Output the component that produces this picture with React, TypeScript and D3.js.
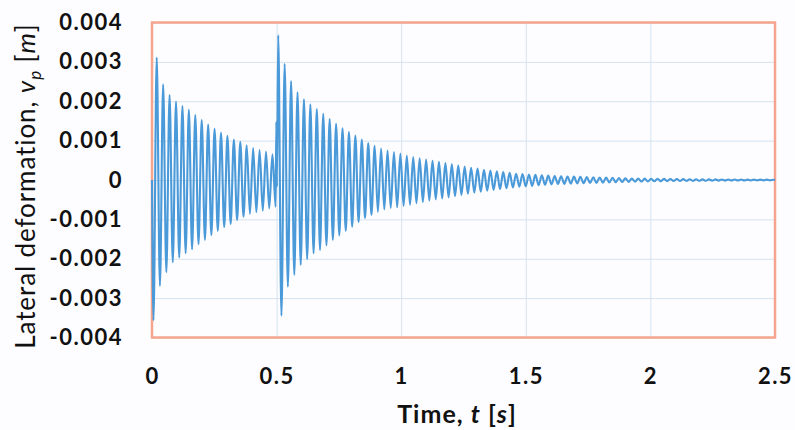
import React, { useEffect, useRef } from 'react';
import * as d3 from 'd3';

// tick values and labels
const X_TICKS = [0, 0.5, 1, 1.5, 2, 2.5];
const X_TICK_LABELS = ['0', '0.5', '1', '1.5', '2', '2.5'];
const Y_TICKS = [-0.004, -0.003, -0.002, -0.001, 0, 0.001, 0.002, 0.003, 0.004];
const Y_TICK_LABELS = ['-0.004', '-0.003', '-0.002', '-0.001', '0', '0.001', '0.002', '0.003', '0.004'];

// response to the first impact: start, then one row per cycle [t peak, v peak, t trough, v trough]
const FIRST_START: [number, number][] = [[0, 0], [0.006, -0.00356]];
const FIRST_CYCLES: [number, number, number, number][] = [
  [0.0189, 0.00311, 0.0318, -0.00269],
  [0.0447, 0.00243, 0.0576, -0.00234],
  [0.0705, 0.00216, 0.0834, -0.00209],
  [0.0963, 0.00199, 0.1092, -0.00197],
  [0.1221, 0.00188, 0.1350, -0.00186],
  [0.1479, 0.00178, 0.1608, -0.00176],
  [0.1737, 0.00165, 0.1866, -0.00163],
  [0.1995, 0.00152, 0.2124, -0.00152],
  [0.2253, 0.00141, 0.2382, -0.00140],
  [0.2511, 0.00130, 0.2640, -0.00129],
  [0.2769, 0.00120, 0.2898, -0.00120],
  [0.3027, 0.00112, 0.3156, -0.00112],
  [0.3285, 0.00103, 0.3414, -0.00102],
  [0.3543, 0.00097, 0.3672, -0.00093],
  [0.3801, 0.00088, 0.3930, -0.00086],
  [0.4059, 0.00081, 0.4188, -0.00082],
  [0.4317, 0.00076, 0.4446, -0.00078],
  [0.4575, 0.00072, 0.4704, -0.00072],
  [0.4833, 0.00065, 0.4962, -0.00068],
];

// short wiggle just before the second impact
const TRANSITION: [number, number][] = [[0.4990, 0.00148], [0.5012, -0.00017]];

// response to the second impact (t = 0.5 s)
const SECOND_CYCLES: [number, number, number, number][] = [
  [0.5065, 0.00368, 0.5194, -0.00345],
  [0.5323, 0.00295, 0.5452, -0.00271],
  [0.5581, 0.00251, 0.5710, -0.00241],
  [0.5839, 0.00223, 0.5968, -0.00216],
  [0.6097, 0.00205, 0.6226, -0.00201],
  [0.6355, 0.00192, 0.6484, -0.00186],
  [0.6613, 0.00180, 0.6742, -0.00178],
  [0.6871, 0.00168, 0.7000, -0.00166],
  [0.7129, 0.00155, 0.7258, -0.00152],
  [0.7387, 0.00143, 0.7516, -0.00141],
  [0.7645, 0.00131, 0.7774, -0.00129],
  [0.7903, 0.00122, 0.8032, -0.00119],
  [0.8161, 0.00113, 0.8290, -0.00107],
  [0.8419, 0.00103, 0.8548, -0.00097],
  [0.8677, 0.00094, 0.8806, -0.00089],
  [0.8935, 0.00087, 0.9064, -0.00081],
  [0.9193, 0.00080, 0.9322, -0.00075],
  [0.9451, 0.00075, 0.9580, -0.00071],
  [0.9709, 0.00071, 0.9838, -0.00069],
  [0.9967, 0.00067, 1.0096, -0.00066],
  [1.0225, 0.00062, 1.0354, -0.00063],
  [1.0483, 0.00058, 1.0612, -0.00059],
  [1.0741, 0.00055, 1.0870, -0.00056],
  [1.0999, 0.00052, 1.1128, -0.00052],
  [1.1257, 0.00049, 1.1386, -0.00049],
  [1.1515, 0.00046, 1.1644, -0.00047],
  [1.1773, 0.00043, 1.1902, -0.00044],
  [1.2031, 0.00040, 1.2160, -0.00041],
  [1.2289, 0.00037, 1.2418, -0.00038],
  [1.2547, 0.00034, 1.2676, -0.00035],
  [1.2805, 0.00031, 1.2934, -0.00032],
  [1.3063, 0.00029, 1.3192, -0.00030],
  [1.3321, 0.00026, 1.3450, -0.00027],
  [1.3579, 0.00024, 1.3708, -0.00025],
  [1.3837, 0.00022, 1.3966, -0.00023],
  [1.4095, 0.00020, 1.4224, -0.00021],
  [1.4353, 0.00018, 1.4482, -0.00019],
  [1.4611, 0.00016, 1.4740, -0.00017],
  [1.4869, 0.00015, 1.4998, -0.00016],
  [1.5127, 0.00014, 1.5256, -0.00015],
  [1.5385, 0.00013, 1.5514, -0.00013],
  [1.5643, 0.00012, 1.5772, -0.00012],
  [1.5901, 0.00011, 1.6030, -0.00011],
  [1.6159, 0.000100, 1.6288, -0.000100],
  [1.6417, 0.000095, 1.6546, -0.000098],
  [1.6675, 0.000090, 1.6804, -0.000092],
  [1.6933, 0.000085, 1.7062, -0.000087],
  [1.7191, 0.000080, 1.7320, -0.000082],
  [1.7449, 0.000075, 1.7578, -0.000077],
  [1.7707, 0.000070, 1.7836, -0.000072],
  [1.7965, 0.000065, 1.8094, -0.000067],
  [1.8223, 0.000060, 1.8352, -0.000062],
  [1.8481, 0.000055, 1.8610, -0.000057],
  [1.8739, 0.000050, 1.8868, -0.000052],
  [1.8997, 0.000045, 1.9126, -0.000047],
  [1.9255, 0.000040, 1.9384, -0.000042],
  [1.9513, 0.000038, 1.9642, -0.000039],
  [1.9771, 0.000035, 1.9900, -0.000036],
  [2.0029, 0.000032, 2.0158, -0.000033],
  [2.0287, 0.000030, 2.0416, -0.000031],
  [2.0545, 0.000028, 2.0674, -0.000029],
  [2.0803, 0.000026, 2.0932, -0.000027],
  [2.1061, 0.000024, 2.1190, -0.000025],
  [2.1319, 0.000022, 2.1448, -0.000023],
  [2.1577, 0.000020, 2.1706, -0.000021],
  [2.1835, 0.000018, 2.1964, -0.000019],
  [2.2093, 0.000017, 2.2222, -0.000018],
  [2.2351, 0.000016, 2.2480, -0.000017],
  [2.2609, 0.000015, 2.2738, -0.000016],
  [2.2867, 0.000014, 2.2996, -0.000015],
  [2.3125, 0.000013, 2.3254, -0.000014],
  [2.3383, 0.000012, 2.3512, -0.000013],
  [2.3641, 0.000011, 2.3770, -0.000012],
  [2.3899, 0.000010, 2.4028, -0.000011],
  [2.4157, 0.000010, 2.4286, -0.000010],
  [2.4415, 0.000009, 2.4544, -0.000010],
  [2.4673, 0.000009, 2.4802, -0.000009],
];
const END: [number, number][] = [[2.4931, 0.000008], [2.5, 0]];

const WIDTH = 795;
const HEIGHT = 430;

const App = () => {
  const svgRef = useRef<SVGSVGElement>(null);

  useEffect(() => {
    const svg = d3.select(svgRef.current);
    svg.selectAll('*').remove();

    const margin = { top: 22.5, right: 20, bottom: 92.5, left: 152 };
    const innerWidth = WIDTH - margin.left - margin.right;
    const innerHeight = HEIGHT - margin.top - margin.bottom;

    const xScale = d3.scaleLinear().domain([0, 2.5]).range([0, innerWidth]);
    const yScale = d3.scaleLinear().domain([-0.004, 0.004]).range([innerHeight, 0]);

    const points: [number, number][] = [
      ...FIRST_START,
      ...FIRST_CYCLES.flatMap(([tp, vp, tt, vt]) => [[tp, vp], [tt, vt]] as [number, number][]),
      ...TRANSITION,
      ...SECOND_CYCLES.flatMap(([tp, vp, tt, vt]) => [[tp, vp], [tt, vt]] as [number, number][]),
      ...END,
    ];

    const g = svg.append('g').attr('transform', `translate(${margin.left},${margin.top})`);

    // gridlines
    const gridX = g.append('g')
      .attr('transform', `translate(0,${innerHeight})`)
      .call(d3.axisBottom(xScale).tickValues(X_TICKS).tickSize(-innerHeight).tickFormat(() => ''));
    const gridY = g.append('g')
      .call(d3.axisLeft(yScale).tickValues(Y_TICKS).tickSize(-innerWidth).tickFormat(() => ''));
    [gridX, gridY].forEach(gr => {
      gr.select('.domain').remove();
      gr.selectAll('line').attr('stroke', '#d5e2ee').attr('stroke-width', 1);
    });

    // plot area border
    g.append('rect')
      .attr('width', innerWidth)
      .attr('height', innerHeight)
      .attr('fill', 'none')
      .attr('stroke', '#f5a48d')
      .attr('stroke-width', 2.5);

    const line = d3.line<[number, number]>()
      .x(d => xScale(d[0]))
      .y(d => yScale(d[1]))
      .curve(d3.curveMonotoneX);

    g.append('path')
      .datum(points)
      .attr('fill', 'none')
      .attr('stroke', '#4a99d8')
      .attr('stroke-width', 2.1)
      .attr('stroke-linejoin', 'round')
      .attr('d', line);

    // axes labels
    const xAxis = g.append('g')
      .attr('transform', `translate(0,${innerHeight})`)
      .call(d3.axisBottom(xScale).tickValues(X_TICKS).tickSize(0).tickPadding(31)
        .tickFormat((d, i) => X_TICK_LABELS[i]));
    const yAxis = g.append('g')
      .call(d3.axisLeft(yScale).tickValues(Y_TICKS).tickSize(0).tickPadding(29)
        .tickFormat((d, i) => Y_TICK_LABELS[i]));
    [xAxis, yAxis].forEach(ax => {
      ax.select('.domain').remove();
      ax.attr('font-family', 'Lato, sans-serif')
        .attr('font-size', 22)
        .attr('font-weight', 'bold');
      ax.selectAll('text').attr('fill', '#111').style('letter-spacing', '1.5px');
    });

    // y title
    const yTitle = svg.append('text')
      .attr('transform', `translate(35,186) rotate(-90)`)
      .attr('text-anchor', 'middle')
      .attr('font-family', 'Lato, sans-serif')
      .attr('font-size', 26)
      .style('letter-spacing', '0.9px')
      .attr('fill', '#111');
    yTitle.append('tspan').text('Lateral deformation, ');
    yTitle.append('tspan').attr('font-style', 'italic').text('v');
    yTitle.append('tspan').attr('font-style', 'italic').attr('font-size', 17).attr('dy', 6).text('p');
    yTitle.append('tspan').attr('dy', -6).text(' [');
    yTitle.append('tspan').attr('font-style', 'italic').text('m');
    yTitle.append('tspan').text(']');

    // x title
    const xTitle = svg.append('text')
      .attr('x', 457)
      .attr('y', 423)
      .attr('text-anchor', 'middle')
      .attr('font-family', 'Lato, sans-serif')
      .attr('font-size', 25)
      .attr('font-weight', 'bold')
      .style('letter-spacing', '1px')
      .attr('fill', '#111');
    xTitle.append('tspan').text('Time, ');
    xTitle.append('tspan').attr('font-style', 'italic').text('t');
    xTitle.append('tspan').text(' [');
    xTitle.append('tspan').attr('font-style', 'italic').text('s');
    xTitle.append('tspan').text(']');
  }, []);

  return (
    <svg
      ref={svgRef}
      width={WIDTH}
      height={HEIGHT}
      style={{ position: 'absolute', left: 0, top: 0, background: '#fdfdff' }}
    />
  );
};

export default App;
